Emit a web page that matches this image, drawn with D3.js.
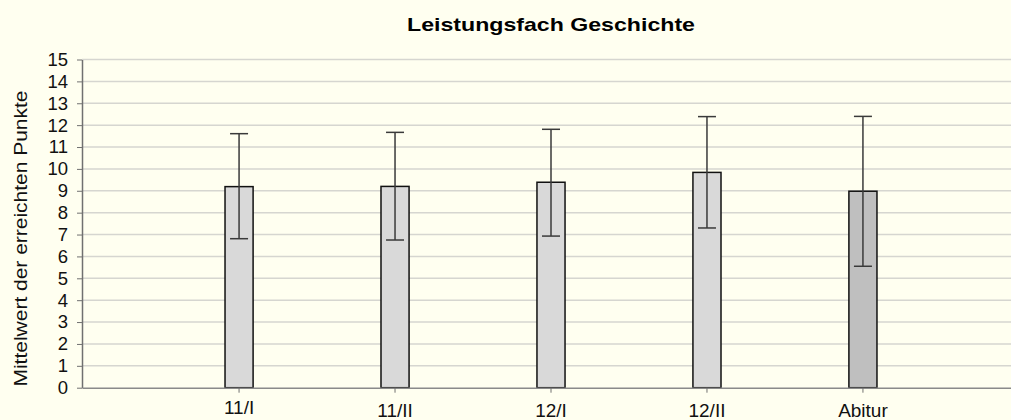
<!DOCTYPE html>
<html>
<head>
<meta charset="utf-8">
<script src="https://cdn.jsdelivr.net/npm/d3@7"></script>
<style>
  html, body { margin: 0; padding: 0; background: #FFFFF0; }
  svg { display: block; font-family: "Liberation Sans", Arial, sans-serif; }
</style>
</head>
<body>
<div id="vis"></div>
<script>
// data
const CATEGORIES = ["11/I", "11/II", "12/I", "12/II", "Abitur"];
const MEANS = [9.19, 9.20, 9.39, 9.84, 8.98];
const ERR_LOW = [6.81, 6.75, 6.93, 7.30, 5.55];
const ERR_HIGH = [11.61, 11.67, 11.81, 12.39, 12.40];
const Y_TICKS = d3.range(0, 16);

// layout
const FRAME_WIDTH = 1011;
const FRAME_HEIGHT = 420;
const PLOT = {left: 82, right: 1020, top: 59.5, bottom: 387.7};

const FRAME = d3.select("#vis")
  .append("svg")
    .attr("width", FRAME_WIDTH)
    .attr("height", FRAME_HEIGHT);

FRAME.append("rect")
  .attr("width", FRAME_WIDTH)
  .attr("height", FRAME_HEIGHT)
  .attr("fill", "#FFFFF0");

const data = CATEGORIES.map((c, i) => ({
  cat: c, mean: MEANS[i], lo: ERR_LOW[i], hi: ERR_HIGH[i]
}));

// scales
const X_SCALE = d3.scaleBand()
  .domain(CATEGORIES)
  .range([PLOT.left, PLOT.right])
  .paddingInner(0.82)
  .paddingOuter(0.917);

const Y_SCALE = d3.scaleLinear()
  .domain([0, 15])
  .range([PLOT.bottom, PLOT.top]);

// gridlines
FRAME.append("g")
  .selectAll("line")
  .data(Y_TICKS.filter(d => d > 0))
  .enter()
  .append("line")
    .attr("x1", PLOT.left)
    .attr("x2", FRAME_WIDTH)
    .attr("y1", d => Y_SCALE(d))
    .attr("y2", d => Y_SCALE(d))
    .attr("stroke", "#d6d6d0")
    .attr("stroke-width", 1.5);

// bars
const cx = d => X_SCALE(d.cat) + X_SCALE.bandwidth() / 2;

FRAME.append("g")
  .selectAll("rect")
  .data(data)
  .enter()
  .append("rect")
    .attr("x", d => X_SCALE(d.cat))
    .attr("y", d => Y_SCALE(d.mean))
    .attr("width", X_SCALE.bandwidth())
    .attr("height", d => Y_SCALE(0) - Y_SCALE(d.mean))
    .attr("fill", d => d.cat === "Abitur" ? "#BFBFBF" : "#D9D9D9")
    .attr("stroke", "#111")
    .attr("stroke-width", 1.5);

// error bars
const CAP = 9;
const err = FRAME.append("g")
  .attr("stroke", "#3a3a3a")
  .attr("stroke-width", 1.5);

err.selectAll(".stem")
  .data(data)
  .enter()
  .append("line")
    .attr("x1", cx).attr("x2", cx)
    .attr("y1", d => Y_SCALE(d.lo))
    .attr("y2", d => Y_SCALE(d.hi));

err.selectAll(".capHi")
  .data(data)
  .enter()
  .append("line")
    .attr("x1", d => cx(d) - CAP).attr("x2", d => cx(d) + CAP)
    .attr("y1", d => Y_SCALE(d.hi)).attr("y2", d => Y_SCALE(d.hi));

err.selectAll(".capLo")
  .data(data)
  .enter()
  .append("line")
    .attr("x1", d => cx(d) - CAP).attr("x2", d => cx(d) + CAP)
    .attr("y1", d => Y_SCALE(d.lo)).attr("y2", d => Y_SCALE(d.lo));

// axes
const yAxis = FRAME.append("g")
  .attr("transform", "translate(" + PLOT.left + ",0)")
  .call(d3.axisLeft(Y_SCALE).tickValues(Y_TICKS).tickFormat(d3.format("d"))
          .tickSize(5).tickSizeOuter(0).tickPadding(9));
yAxis.select(".domain").attr("stroke", "#707070").attr("stroke-width", 1.5);
yAxis.selectAll(".tick line").attr("stroke", "#707070");
yAxis.selectAll("text")
  .attr("font-size", "18.5px")
  .attr("fill", "#111");

const xAxis = FRAME.append("g")
  .attr("transform", "translate(0," + PLOT.bottom + ")")
  .call(d3.axisBottom(X_SCALE).tickSize(5).tickSizeOuter(0).tickPadding(11));
xAxis.select(".domain").attr("stroke", "#8a8a8a").attr("stroke-width", 1.5);
xAxis.selectAll(".tick line").attr("stroke", "#707070");
xAxis.selectAll("text")
  .attr("font-size", "19px")
  .attr("fill", "#111");
// first label sits a little higher in the original
xAxis.select(".tick text").attr("y", 13);

// title
FRAME.append("text")
  .attr("x", (PLOT.left + PLOT.right) / 2)
  .attr("y", 31)
  .attr("text-anchor", "middle")
  .attr("font-size", "19px")
  .attr("font-weight", "bold")
  .attr("textLength", 288)
  .attr("lengthAdjust", "spacingAndGlyphs")
  .attr("fill", "#000")
  .text("Leistungsfach Geschichte");

// y axis title
FRAME.append("text")
  .attr("transform", "translate(27,238.5) rotate(-90)")
  .attr("text-anchor", "middle")
  .attr("font-size", "18px")
  .attr("textLength", 296)
  .attr("lengthAdjust", "spacingAndGlyphs")
  .attr("fill", "#111")
  .text("Mittelwert der erreichten Punkte");
</script>
</body>
</html>
